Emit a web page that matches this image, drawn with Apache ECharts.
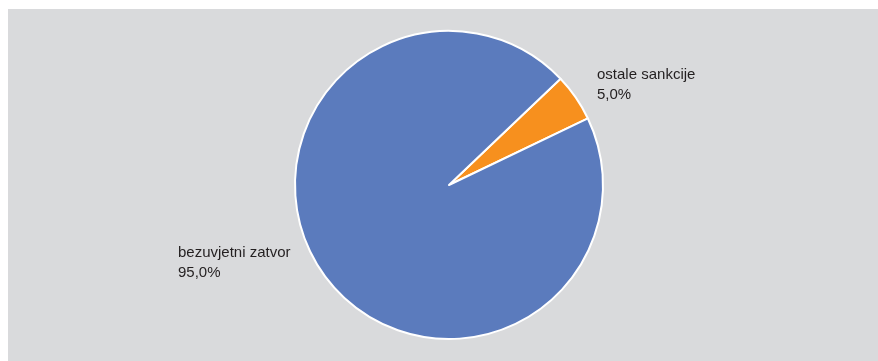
<!DOCTYPE html>
<html><head><meta charset="utf-8">
<script src="https://cdn.jsdelivr.net/npm/echarts@6/dist/echarts.min.js"></script>
<style>html,body{margin:0;padding:0;background:#fff}#c{position:absolute;left:8px;top:9px;width:870px;height:352px;background:#d9dadc}</style>
</head><body><div id="c"></div>
<script>
const categories = ['ostale sankcije', 'bezuvjetni zatvor'];
const values = [5.0, 95.0];
const colors = ['#f7901e', '#5b7bbd'];
const labelPos = [[589, 56], [170, 234]];
const chart = echarts.init(document.getElementById('c'));
chart.setOption({
  animation: false,
  series: [{
    type: 'pie',
    center: [441, 176],
    radius: [0, 154],
    startAngle: 43.6,
    clockwise: true,
    data: categories.map((n, i) => ({name: n, value: values[i], itemStyle: {color: colors[i]}})),
    itemStyle: {borderColor: '#ffffff', borderWidth: 2},
    label: {
      show: true,
      formatter: p => p.name + '\n' + p.value.toFixed(1).replace('.', ',') + '%',
      color: '#231f20',
      fontFamily: '"Liberation Sans", Arial, sans-serif',
      fontSize: 15,
      lineHeight: 20,
      align: 'left'
    },
    labelLine: {show: false},
    labelLayout: p => ({x: labelPos[p.dataIndex][0], y: labelPos[p.dataIndex][1], align: 'left', verticalAlign: 'top'})
  }]
});
</script></body></html>
